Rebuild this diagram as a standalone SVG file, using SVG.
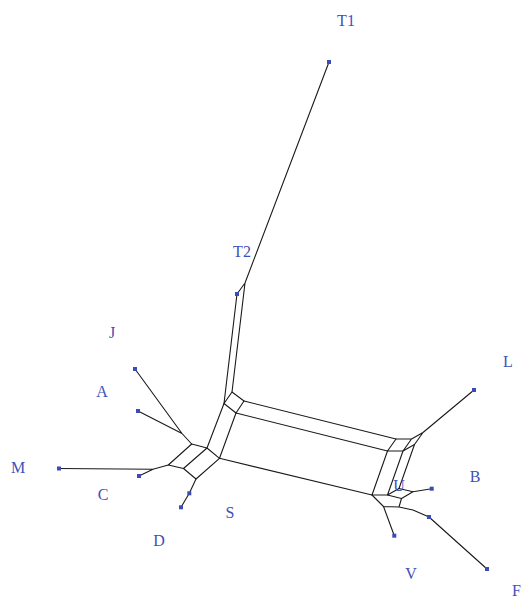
<svg xmlns="http://www.w3.org/2000/svg" width="525" height="603" viewBox="0 0 525 603">
<style>
.e{stroke:#1a1a1a;stroke-width:1.1;fill:none;stroke-linecap:round;stroke-linejoin:round}
.sq{fill:#3b4cb4}
.lb{font-family:"Liberation Serif",serif;font-size:16px;fill:#3f50b8;text-anchor:middle}
</style>
<rect width="525" height="603" fill="#fff"/>
<g id="connectors" class="e">
<path d="M329,62L245,283L237,294M245,283L232,392L224,403.5L237,294"/>
<path d="M232,392L244,401L236,413L224,403.5"/>
<path d="M224,403.5L207,448M236,413L219.5,458.3"/>
<path d="M191.7,444L207,448L219.5,458.3L196,479L183.5,468.5L168.3,465L191.7,444M207,448L183.5,468.5"/>
<path d="M135,369L182,433.5L191.7,444M138,411L182,433.5"/>
<path d="M59,468.5L153,469.3L168.3,465M139,476L153,469.3"/>
<path d="M196,479L189.3,493.3L181,507.3"/>
<path d="M244,401L396,439M236,413L387.5,451M219.5,458.3L372,495"/>
<path d="M396,439L411.5,439L423,432.5L414.5,444.5L403,451L387.5,451L396,439M411.5,439L403,451M423,432.5L474,390"/>
<path d="M387.5,451L372,495L387.5,495L399,488.5L414.5,444.5M403,451L387.5,495"/>
<path d="M399,488.5L413,491.7L431.7,488.7M387.5,495L401.5,498.5L413,491.7"/>
<path d="M372,495L383.5,506.5L394.3,535.7M383.5,506.5L399,507L401.5,498.5M399,507L413,510L429,517L487,569"/>
</g>
<g id="T1"><rect class="sq" x="327" y="60" width="4" height="4"/><text class="lb" x="346" y="26">T1</text></g>
<g id="T2"><rect class="sq" x="235" y="292" width="4" height="4"/><text class="lb" x="242" y="257">T2</text></g>
<g id="J"><rect class="sq" x="133" y="367" width="4" height="4"/><text class="lb" x="112" y="338">J</text></g>
<g id="A"><rect class="sq" x="136" y="409" width="4" height="4"/><text class="lb" x="102" y="397">A</text></g>
<g id="M"><rect class="sq" x="57" y="466.5" width="4" height="4"/><text class="lb" x="18" y="473">M</text></g>
<g id="C"><rect class="sq" x="137" y="474" width="4" height="4"/><text class="lb" x="103" y="500">C</text></g>
<g id="S"><rect class="sq" x="187.3" y="491.3" width="4" height="4"/><text class="lb" x="230" y="518">S</text></g>
<g id="D"><rect class="sq" x="179" y="505.3" width="4" height="4"/><text class="lb" x="159" y="546">D</text></g>
<g id="L"><rect class="sq" x="472" y="388" width="4" height="4"/><text class="lb" x="508" y="367">L</text></g>
<g id="U"><text class="lb" x="399" y="491">U</text></g>
<g id="B"><rect class="sq" x="429.7" y="486.7" width="4" height="4"/><text class="lb" x="475" y="482">B</text></g>
<g id="V"><rect class="sq" x="392.3" y="533.7" width="4" height="4"/><text class="lb" x="411" y="579">V</text></g>
<g id="F"><rect class="sq" x="427" y="515" width="4" height="4"/><rect class="sq" x="485" y="567" width="4" height="4"/><text class="lb" x="512" y="596" style="text-anchor:start">F</text></g>
</svg>
